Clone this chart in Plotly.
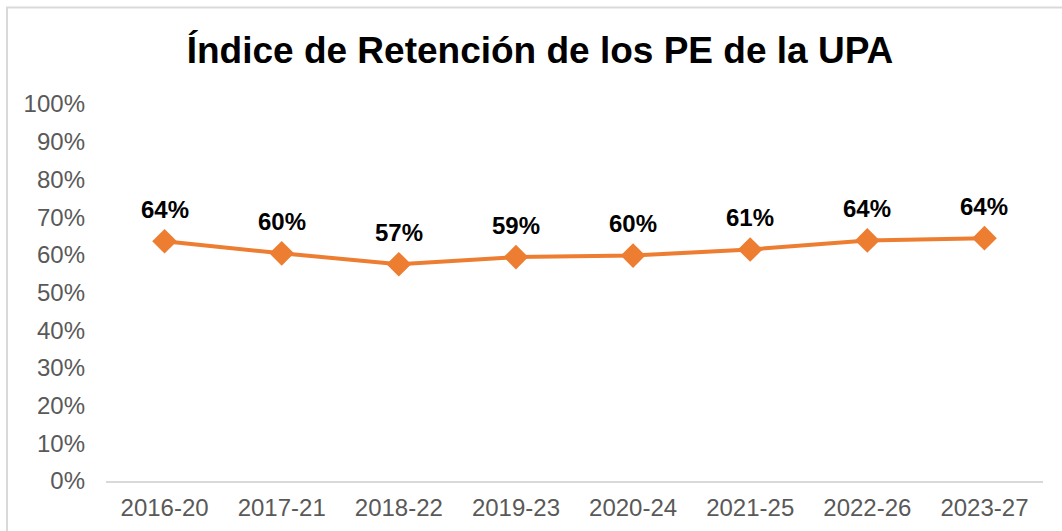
import plotly.graph_objects as go

categories = ["2016-20", "2017-21", "2018-22", "2019-23", "2020-24", "2021-25", "2022-26", "2023-27"]
retention = [0.636, 0.604, 0.575, 0.594, 0.598, 0.614, 0.638, 0.644]
y_ticks = [i / 10 for i in range(11)]
y_tick_labels = [f"{i * 10}%" for i in range(11)]
title_text = "Índice de Retención de los PE de la UPA"

ORANGE = "#ED7D31"
GRAY_TXT = "#595959"
GRAY_LINE = "#D9D9D9"
FONT = "Liberation Sans, Arial, sans-serif"

fig = go.Figure()
fig.add_trace(go.Scatter(
    x=categories, y=retention, mode="lines+markers",
    line=dict(color=ORANGE, width=4),
    marker=dict(symbol="diamond", size=19, color=ORANGE),
    hoverinfo="skip", showlegend=False,
))

for c, v in zip(categories, retention):
    fig.add_annotation(
        x=c, y=v, text=f"<b>{round(v * 100)}%</b>", showarrow=False,
        yshift=32, yanchor="middle",
        font=dict(family=FONT, size=24, color="#000000"),
    )

W, H = 1062, 531
L, R, T, B = 106, 19, 104, 50
pw, ph = W - L - R, H - T - B

def px_x(p):
    return (p - L) / pw

def px_y(p):
    return (H - B - p) / ph

fig.add_shape(type="rect", xref="paper", yref="paper",
              x0=px_x(7), x1=px_x(1070), y0=px_y(560), y1=px_y(7.5),
              line=dict(color=GRAY_LINE, width=2), fillcolor="rgba(0,0,0,0)", layer="below")

fig.update_layout(
    width=W, height=H,
    margin=dict(l=L, r=R, t=T, b=B, pad=0, autoexpand=False),
    paper_bgcolor="white", plot_bgcolor="white",
    title=dict(text=f"<b>{title_text}</b>", x=540 / W, xanchor="center", xref="container",
               y=1 - 50 / H, yanchor="middle", yref="container",
               font=dict(family=FONT, size=37, color="#000000")),
    font=dict(family=FONT, color=GRAY_TXT),
)
fig.update_xaxes(
    type="category", showgrid=False, zeroline=False, automargin=False,
    showline=True, linecolor=GRAY_LINE, linewidth=2,
    ticks="", tickfont=dict(family=FONT, size=24, color=GRAY_TXT),
    ticklabelstandoff=4, range=[-0.5, len(categories) - 0.5],
)
fig.update_yaxes(
    range=[0, 1], tickvals=y_ticks, ticktext=y_tick_labels, automargin=False,
    showgrid=False, zeroline=False, showline=False, ticks="",
    tickfont=dict(family=FONT, size=24, color=GRAY_TXT),
    ticklabelstandoff=20,
)

fig.write_html(
    "out.html",
    config={"displayModeBar": False},
    post_script="document.body.style.margin='0';document.body.style.overflow='hidden';",
)
